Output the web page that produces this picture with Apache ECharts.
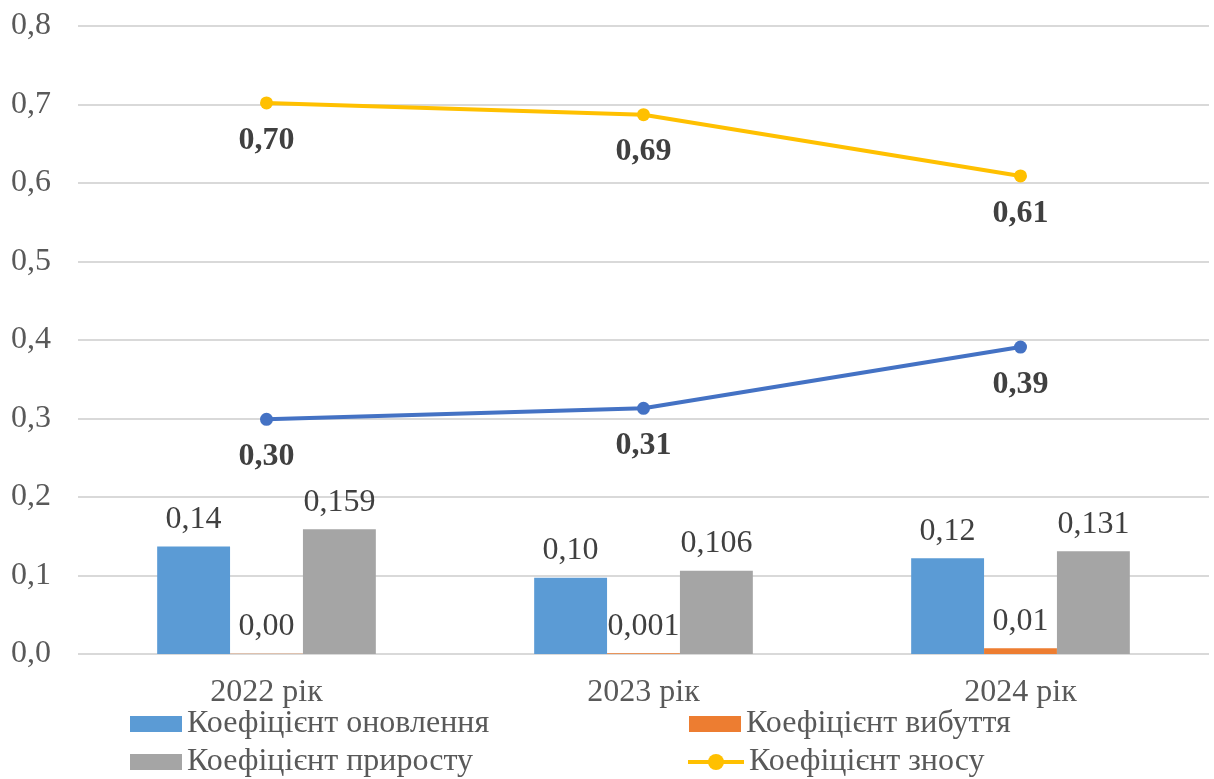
<!DOCTYPE html>
<html><head><meta charset="utf-8">
<script src="https://cdn.jsdelivr.net/npm/echarts@6/dist/echarts.min.js"></script>
<style>html,body{margin:0;padding:0;background:#fff}#c{width:1214px;height:779px}</style>
</head><body><div id="c"></div>
<script>
const categories = ['2022 рік', '2023 рік', '2024 рік'];
const renewal = [0.137, 0.097, 0.122];
const renewalLabels = ['0,14', '0,10', '0,12'];
const disposal = [0.0004, 0.001, 0.0073];
const disposalLabels = ['0,00', '0,001', '0,01'];
const growth = [0.159, 0.106, 0.131];
const growthLabels = ['0,159', '0,106', '0,131'];
const wear = [0.702, 0.687, 0.609];
const wearLabels = ['0,70', '0,69', '0,61'];
const fitness = [0.299, 0.313, 0.391];
const fitnessLabels = ['0,30', '0,31', '0,39'];
const yTickLabels = ['0,0', '0,1', '0,2', '0,3', '0,4', '0,5', '0,6', '0,7', '0,8'];

const FONT = '"Liberation Serif", "Times New Roman", serif';
const chart = echarts.init(document.getElementById('c'), null, {renderer: 'canvas'});

function barSeries(name, data, labels, color) {
  return {
    name: name, type: 'bar', data: data, barGap: '0%', barCategoryGap: '42%',
    itemStyle: {color: color},
    label: {show: true, position: 'top', distance: 11, fontFamily: FONT, fontSize: 32, color: '#404040',
      formatter: p => labels[p.dataIndex]},
    z: 2
  };
}
function lineSeries(name, data, labels, color) {
  return {
    name: name, type: 'line', data: data, symbol: 'circle', symbolSize: 13,
    lineStyle: {color: color, width: 4}, itemStyle: {color: color},
    label: {show: true, position: 'bottom', distance: 15, fontFamily: FONT, fontSize: 32, fontWeight: 'bold', color: '#404040',
      formatter: p => labels[p.dataIndex]},
    z: 3
  };
}
function legendAt(name, left, top, isLine) {
  const l = {orient: 'horizontal', left: left, top: top, padding: 0, itemWidth: 52, itemHeight: 16,
    data: [name], textStyle: {fontFamily: FONT, fontSize: 32, color: '#595959'}};
  if (isLine) {
    l.lineStyle = {width: 4};
    l.itemWidth = 56;
    l.itemHeight = 20;
  } else {
    l.icon = 'rect';
  }
  return l;
}

chart.setOption({
  animation: false,
  textStyle: {fontFamily: FONT},
  grid: {left: 78, right: 5, top: 26, bottom: 125, containLabel: false},
  xAxis: {
    type: 'category', data: categories,
    axisLine: {show: false}, axisTick: {show: false},
    axisLabel: {fontFamily: FONT, fontSize: 32, color: '#595959', margin: 23}
  },
  yAxis: {
    type: 'value', min: 0, max: 0.8, interval: 0.1,
    axisLine: {show: false}, axisTick: {show: false},
    splitLine: {lineStyle: {color: '#D9D9D9', width: 2}},
    axisLabel: {fontFamily: FONT, fontSize: 32, color: '#595959', margin: 27,
      formatter: v => yTickLabels[Math.round(v * 10)]}
  },
  legend: [
    legendAt('Коефіцієнт оновлення', 130, 708, false),
    legendAt('Коефіцієнт приросту', 130, 746, false),
    legendAt('Коефіцієнт вибуття', 689, 708, false),
    legendAt('Коефіцієнт зносу', 686, 746, true)
  ],
  series: [
    barSeries('Коефіцієнт оновлення', renewal, renewalLabels, '#5B9BD5'),
    barSeries('Коефіцієнт вибуття', disposal, disposalLabels, '#ED7D31'),
    barSeries('Коефіцієнт приросту', growth, growthLabels, '#A5A5A5'),
    lineSeries('Коефіцієнт зносу', wear, wearLabels, '#FFC000'),
    lineSeries('Коефіцієнт придатності', fitness, fitnessLabels, '#4472C4')
  ]
});
</script></body></html>
